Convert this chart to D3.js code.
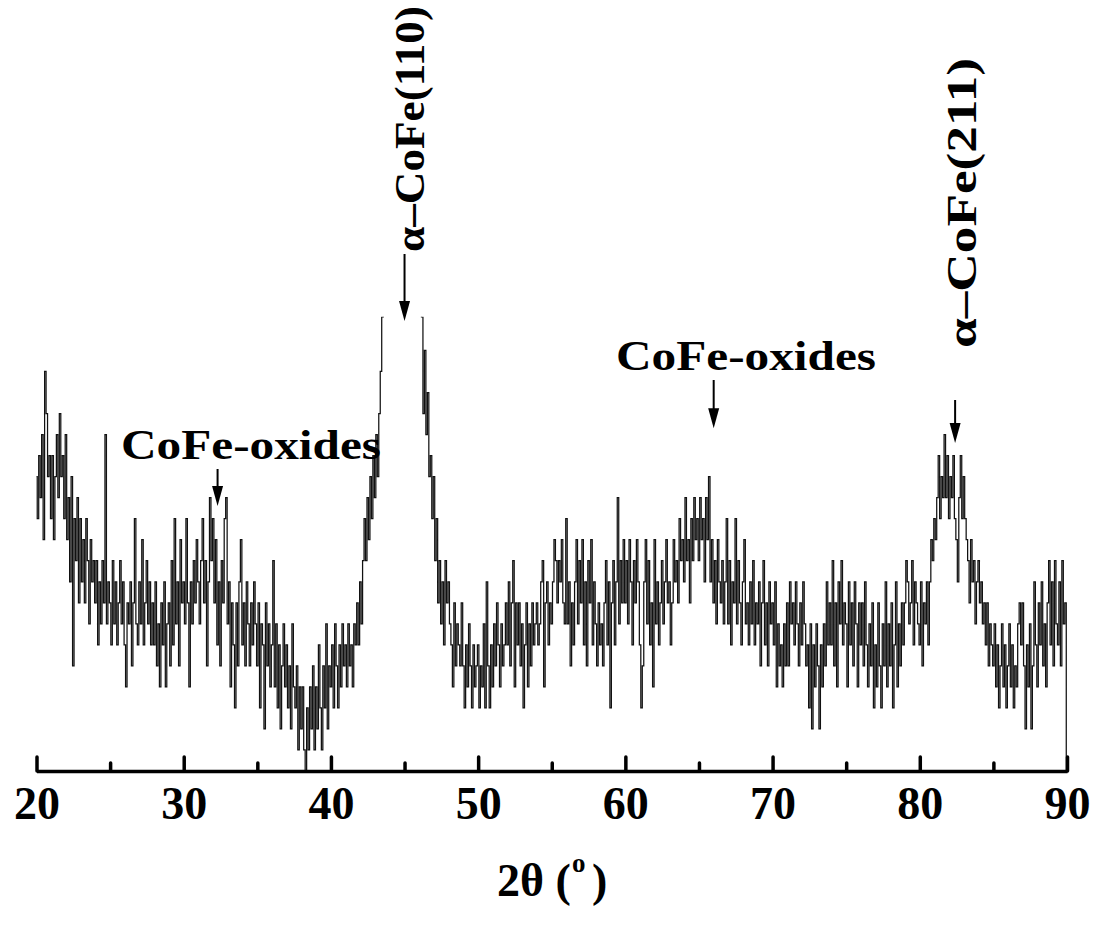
<!DOCTYPE html>
<html><head><meta charset="utf-8">
<script src="https://cdn.jsdelivr.net/npm/d3@7"></script>
<style>body{margin:0;background:#fff}</style>
</head><body>
<svg id="chart" width="1095" height="926"></svg>
<script>
// 2-theta sampling grid
const startAngle = 20, stepAngle = 0.1;
// intensity (counts), 0.1 deg steps
const counts20s = [
14,12,15,13,16,11,19,17,14,15,
12,15,11,14,16,13,17,14,15,12,
16,11,13,9,14,5,12,10,13,8,
12,9,11,8,12,10,7,11,9,10,
8,10,6,9,7,10,8,16,7,9,
8,6,10,7,9,6,8,10,7,9,
6,4,8,7,9,5,8,12,7,6,
9,7,11,6,8,10,7,9,6,8,
6,9,5,7,4,8,6,9,4,7,
8,5,10,6,12,7,9,5,11,8];
const counts30s = [
9,7,12,8,4,9,7,10,8,11,
9,7,10,12,8,10,5,9,13,10,
12,8,11,6,9,5,10,8,12,13,
7,9,4,8,6,3,8,5,9,11,
6,8,5,9,7,5,8,6,9,7,
5,8,3,7,6,2,8,5,7,4,
6,10,4,7,3,6,2,5,7,4,
6,3,5,2,7,4,3,5,1,4,
2,4,1,0,3,1,4,2,5,1,
4,2,6,3,1,5,3,7,2,5];
const counts40s = [
4,6,3,7,5,3,6,4,7,5,
6,4,7,5,6,4,7,6,8,6,
9,7,10,12,10,13,11,14,12,15,
13,16,14,17,19,21.6,24,27,30,33,
35,38,40,42,43,44,45,46,45,46,
47,46,45,44,42,40,38,36,34,32,
26,24,21.6,17,20,16,18,14,15,12,
14,10,12,8,10,7,9,6,10,8,
9,7,6,4,8,5,7,6,5,8,
5,3,6,4,7,5,3,6,4,5];
const counts50s = [
6,3,5,4,7,3,9,5,3,6,
4,7,5,8,6,4,7,5,6,8,
6,9,5,8,10,4,8,6,8,5,
7,3,6,8,4,7,5,8,6,7,
8,6,7,9,10,4,8,9,6,8,
7,9,11,10,8,10,9,11,8,7,
12,7,9,5,8,6,9,11,7,10,
8,11,6,9,5,10,8,11,6,9,
7,5,8,6,7,5,8,10,6,9,
3,8,10,6,9,13,7,10,8,11];
const counts60s = [
8,10,7,11,9,6,10,8,11,9,
6,3,5,9,11,7,10,6,8,4,
11,7,9,6,8,10,7,9,11,8,
9,6,8,11,9,10,8,12,10,11,
9,13,10,11,8,12,10,13,11,12,
10,13,11,12,9,13,11,14,9,11,
8,10,7,11,9,8,10,7,9,12,
7,10,6,9,8,12,7,10,8,6,
9,11,7,8,6,9,7,10,6,8,
7,9,5,8,10,6,8,5,9,7];
const counts70s = [
8,6,9,4,7,5,6,4,7,5,
8,5,9,7,8,6,9,7,5,8,
6,9,7,5,6,3,7,2,6,4,
7,5,2,6,4,7,5,9,6,8,
6,10,5,8,4,9,7,10,6,8,
7,4,9,6,8,5,9,7,4,8,
6,8,5,9,6,4,7,5,8,3,
6,4,8,5,3,7,5,9,4,7,
5,8,3,6,9,4,7,5,8,6,
8,10,9,7,8,10,6,9,8,7];
const counts80s = [
6,9,5,8,7,9,6,9,11,10,
12,11,13,15,12,14,13,16,13,15,
12,14,13,15,12,11,9,13,15,12,
14,12,11,10,8,11,9,10,7,9,
10,8,9,7,8,6,8,5,7,6,
5,7,4,6,3,5,7,4,6,3,
5,7,4,6,3,5,4,7,8,6,
8,5,2,6,4,7,2,5,9,6,
4,8,6,9,5,7,4,8,10,6,
9,5,10,7,6,9,5,10,7,8,
0];
const counts = [].concat(counts20s, counts30s, counts40s, counts50s, counts60s, counts70s, counts80s);

const majorTicks = [20, 30, 40, 50, 60, 70, 80, 90];
const minorTicks = [25, 35, 45, 55, 65, 75, 85];
const xTitle = ["2θ (", "o", ")"];

const oxideLabels = ["CoFe-oxides", "CoFe-oxides"];
const oxideAngles = [32.3, 66.0];
const oxideArrowTips = [12.6, 16.3];
const phaseLabels = ["α–CoFe(110)", "α–CoFe(211)"];
const phaseAngles = [45.0, 82.4];
const phaseArrowTips = [21.4, 15.6];

const FONT = "'Liberation Serif','Times New Roman',serif";
const svg = d3.select("#chart");
const x = d3.scaleLinear().domain([20, 90]).range([36.5, 1067]);
const y = d3.scaleLinear().domain([0, 21.6]).range([771, 316.8]);

svg.append("defs").append("clipPath").attr("id", "plotclip")
  .append("rect").attr("x", x(20) - 2).attr("y", y(21.6))
  .attr("width", x(90) - x(20) + 4).attr("height", y(0) - y(21.6) + 2);

const line = d3.line()
  .x((d, i) => x(startAngle + i * stepAngle))
  .y(d => y(d))
  .curve(d3.curveStep);

svg.append("path").datum(counts)
  .attr("clip-path", "url(#plotclip)")
  .attr("d", line)
  .attr("fill", "none").attr("stroke", "#111").attr("stroke-width", 1.25);

// axes
const axMajor = svg.append("g").attr("transform", `translate(0,${y(0)})`)
  .call(d3.axisBottom(x).tickValues(majorTicks).tickSize(-14).tickSizeOuter(0)
    .tickPadding(15).tickFormat(d3.format("d")));
axMajor.select(".domain").attr("stroke", "#000").attr("stroke-width", 3.5);
axMajor.selectAll(".tick line").attr("stroke", "#000").attr("stroke-width", 3.5).attr("stroke-linecap", "round");
axMajor.selectAll(".tick text").attr("font-family", FONT).attr("font-weight", "bold")
  .attr("font-size", 46).attr("fill", "#000");

const axMinor = svg.append("g").attr("transform", `translate(0,${y(0)})`)
  .call(d3.axisBottom(x).tickValues(minorTicks).tickSize(-8).tickFormat(""));
axMinor.select(".domain").remove();
axMinor.selectAll(".tick line").attr("stroke", "#000").attr("stroke-width", 3.5).attr("stroke-linecap", "round");

// axis title
const tg = svg.append("g").attr("font-family", FONT).attr("font-weight", "bold").attr("fill", "#000");
tg.append("text").attr("x", 497).attr("y", 896).attr("font-size", 46).text(xTitle[0]);
tg.append("text").attr("x", 572).attr("y", 872).attr("font-size", 27).text(xTitle[1]);
tg.append("text").attr("x", 592).attr("y", 896).attr("font-size", 46).text(xTitle[2]);

function arrow(px, yTop, yTip) {
  svg.append("line").attr("x1", px).attr("x2", px).attr("y1", yTop).attr("y2", yTip - 15)
    .attr("stroke", "#000").attr("stroke-width", 2);
  svg.append("path").attr("d", `M${px - 5.5},${yTip - 20}L${px + 5.5},${yTip - 20}L${px},${yTip}Z`)
    .attr("fill", "#000");
}

// oxide annotations
const oxTextX = [121, 616];
const oxBase = [459, 370];
oxideLabels.forEach((t, i) => {
  svg.append("text").attr("x", oxTextX[i]).attr("y", oxBase[i])
    .attr("font-family", FONT).attr("font-weight", "bold").attr("font-size", 42)
    .attr("textLength", 260).attr("lengthAdjust", "spacingAndGlyphs").attr("fill", "#000").text(t);
  arrow(x(oxideAngles[i]), oxBase[i] + 10, y(oxideArrowTips[i]));
});

// phase annotations (rotated)
const phBaseX = [424, 976];
const phStartY = [252, 348];
const phLen = [246, 290];
const phArrowTop = [254, 400];
phaseLabels.forEach((t, i) => {
  svg.append("text").attr("transform", `translate(${phBaseX[i]},${phStartY[i]}) rotate(-90)`)
    .attr("font-family", FONT).attr("font-weight", "bold").attr("font-size", 42)
    .attr("textLength", phLen[i]).attr("lengthAdjust", "spacingAndGlyphs").attr("fill", "#000").text(t);
  arrow(x(phaseAngles[i]), phArrowTop[i], y(phaseArrowTips[i]));
});
</script>
</body></html>
